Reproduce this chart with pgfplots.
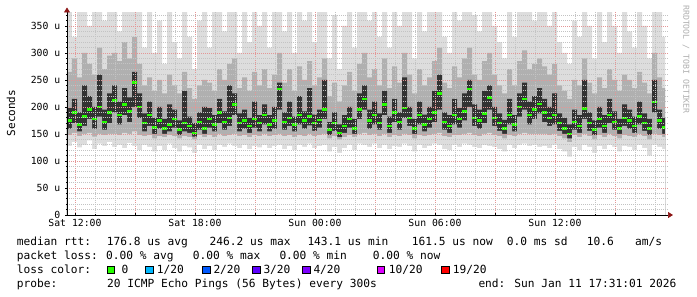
\documentclass[border=0pt]{standalone}
\usepackage{fontspec}
\setmainfont{DejaVu Sans Mono}
\usepackage{pgfplots}
\pgfplotsset{compat=1.18}
\usepackage{pgfplotstable}
\usetikzlibrary{arrows.meta}
\definecolor{lightc}{RGB}{221,221,221}
\definecolor{midc}{RGB}{176,176,176}
\definecolor{darkc}{RGB}{50,50,50}
\definecolor{lossgreen}{HTML}{26FF00}
\definecolor{loss1}{HTML}{00B8FF}
\definecolor{loss2}{HTML}{0059FF}
\definecolor{loss3}{HTML}{5E00FF}
\definecolor{loss4}{HTML}{7E00FF}
\definecolor{loss10}{HTML}{DD00FF}
\definecolor{loss19}{HTML}{FF0000}
\definecolor{majgrid}{RGB}{228,150,150}
\definecolor{mingrid}{RGB}{195,195,195}
\definecolor{arrowc}{RGB}{140,20,20}
\definecolor{wmark}{RGB}{175,175,175}
\pgfplotstableread{
x llo mlo dlo med dhi mhi lhi
-0.40 128 148 160 175 198 265 380
-0.15 135 152 170 190 215 290 330
0.10 125 146 155 168 190 255 380
0.35 130 150 165 182 240 300 380
0.60 138 152 178 195 220 280 350
0.85 122 145 160 178 200 260 380
1.10 132 150 182 200 260 310 380
1.35 128 148 158 172 195 270 360
1.60 135 150 170 190 225 295 380
1.85 126 150 190 212 240 300 380
2.10 130 148 168 185 210 285 340
2.35 124 152 185 205 235 320 380
2.60 133 150 172 192 218 290 380
2.85 128 155 200 245 265 330 380
3.10 120 148 180 200 225 280 380
3.35 130 146 155 170 188 240 310
3.60 126 148 165 185 210 255 380
3.85 118 142 150 162 180 230 300
4.10 128 146 160 175 200 250 360
4.35 120 144 150 160 178 225 280
4.60 132 148 155 168 205 260 380
4.85 124 146 162 178 195 240 320
5.10 118 142 148 158 175 225 290
5.35 128 146 155 170 230 265 380
5.60 125 144 152 165 182 235 330
5.85 115 140 145 152 170 215 270
6.10 130 148 158 172 190 240 360
6.35 122 144 150 160 200 250 380
6.60 128 148 162 178 198 245 310
6.85 120 144 155 168 185 230 380
7.10 130 150 170 190 215 270 380
7.35 126 146 158 172 192 250 340
7.60 132 148 165 180 240 280 380
7.85 128 150 185 205 225 290 380
8.10 124 146 155 170 188 235 300
8.35 130 148 160 175 195 255 380
8.60 122 144 152 165 180 230 320
8.85 128 148 162 178 210 265 380
9.10 125 146 155 170 185 240 350
9.35 130 150 168 185 205 270 380
9.60 124 146 155 168 185 235 310
9.85 128 148 160 175 200 260 380
10.10 130 150 195 233 245 300 380
10.35 122 146 158 172 190 245 340
10.60 128 148 165 180 210 270 380
10.85 120 144 155 168 182 230 300
11.10 130 148 168 185 220 275 380
11.35 126 146 160 175 192 250 360
11.60 132 150 166 182 235 285 380
11.85 124 146 156 170 186 240 320
12.10 128 148 162 176 195 255 380
12.35 130 150 178 195 250 290 380
12.60 118 142 148 158 172 220 290
12.85 126 146 156 170 190 245 370
13.10 115 140 144 152 168 210 270
13.35 124 144 152 165 185 240 350
13.60 130 148 162 178 200 265 380
13.85 120 144 150 160 178 230 310
14.10 132 150 178 195 225 280 380
14.35 130 152 195 215 240 300 380
14.60 126 148 160 175 195 255 360
14.85 132 150 168 185 210 270 380
15.10 124 146 158 170 188 240 330
15.35 130 150 185 205 230 290 380
15.60 122 144 152 165 182 235 310
15.85 128 148 172 190 215 275 380
16.10 126 146 158 172 190 245 350
16.35 132 150 180 198 255 300 380
16.60 128 148 165 180 200 260 380
16.85 118 142 150 160 178 225 290
17.10 130 148 168 185 210 270 380
17.35 124 146 155 168 186 240 340
17.60 128 148 162 178 200 255 380
17.85 132 150 172 190 230 285 380
18.10 130 152 195 225 260 310 380
18.35 122 146 158 172 190 245 330
18.60 120 144 152 165 185 235 300
18.85 130 148 168 185 215 275 380
19.10 126 148 162 178 198 255 360
19.35 132 150 175 192 225 290 380
19.60 130 152 200 233 250 310 380
19.85 126 148 165 180 205 260 370
20.10 124 146 160 175 195 250 340
20.35 130 150 170 188 230 285 380
20.60 128 152 195 218 240 300 380
20.85 126 148 165 180 200 260 350
21.10 122 146 156 170 188 240 320
21.35 118 142 150 160 176 225 290
21.60 130 148 168 185 215 270 380
21.85 124 146 155 168 185 240 330
22.10 130 150 182 200 225 285 380
22.35 132 152 195 215 245 305 380
22.60 128 150 168 185 210 270 380
22.85 130 150 178 195 220 280 360
23.10 126 150 188 206 235 290 380
23.35 128 150 172 190 215 275 380
23.60 124 148 165 180 200 260 350
23.85 130 150 168 185 225 280 380
24.10 122 146 156 170 188 240 320
24.35 118 142 150 160 180 230 300
24.60 108 135 142 150 168 215 280
24.85 126 148 158 172 195 250 360
25.10 120 144 152 165 185 240 330
25.35 130 150 178 197 250 290 380
25.60 126 146 156 170 190 245 350
25.85 115 140 148 158 175 225 290
26.10 128 148 162 178 200 255 380
26.35 122 144 152 165 185 235 320
26.60 130 150 170 185 215 270 380
26.85 126 146 158 172 192 250 350
27.10 118 142 150 160 178 230 300
27.35 128 148 165 180 205 260 380
27.60 126 146 160 175 195 250 340
27.85 120 144 152 165 182 235 310
28.10 130 150 168 182 210 265 380
28.35 124 146 156 170 188 245 350
28.60 110 140 148 160 178 225 290
28.85 130 150 190 209 250 300 380
29.10 126 148 160 175 195 255 380
29.35 122 144 150 162 180 235 330
29.50 122 144 150 162 180 235 330
}\smoke
\newcommand\lt[3]{\node[anchor=base west, inner sep=0pt] at (#1pt,#2pt) {#3};}
\newcommand\lbox[3]{\draw[fill=#3, draw=black, line width=0.7pt] (#1pt,#2pt) rectangle ++(7.5pt,7.5pt);}
\begin{document}
\begin{tikzpicture}
\fill[white] (0,0) rectangle (697pt,297pt);
\path[use as bounding box] (0,0) rectangle (697pt,297pt);
\begin{axis}[
  at={(67pt,82pt)}, anchor=south west,
  scale only axis, width=601pt, height=202.5pt,
  xmin=-0.4, xmax=29.65, ymin=0, ymax=375,
  axis on top,
  axis lines=left,
  axis line style={black, line width=0.7pt},
  x axis line style={-{Triangle[length=5pt,width=6pt,color=arrowc]}, shorten >=-5pt},
  y axis line style={-{Triangle[length=5pt,width=6pt,color=arrowc]}, shorten >=-5pt},
  grid=both,
  major grid style={draw=majgrid, dash pattern=on 1pt off 1pt, line width=0.7pt},
  minor grid style={draw=mingrid, dash pattern=on 1pt off 1pt, line width=0.7pt},
  xtick={0,3,6,9,12,15,18,21,24,27},
  xticklabels={Sat 12:00,,Sat 18:00,,Sun 00:00,,Sun 06:00,,Sun 12:00,},
  minor xtick={1,2,4,5,7,8,10,11,13,14,16,17,19,20,22,23,25,26,28,29},
  ytick={0,50,100,150,200,250,300,350},
  yticklabels={0,50 u,100 u,150 u,200 u,250 u,300 u,350 u},
  minor ytick={10,20,30,40,60,70,80,90,110,120,130,140,160,170,180,190,210,220,230,240,260,270,280,290,310,320,330,340,360,370},
  tick style={black, line width=0.6pt},
  major tick length=3pt, minor tick length=2pt, tick align=center,
  ticklabel style={font=\fontsize{9.8}{11}\selectfont, text=black},
  xticklabel style={anchor=north, inner sep=0pt, yshift=-3pt},
  yticklabel style={anchor=east, inner sep=0pt, xshift=-5pt},
]
\addplot[const plot, fill=lightc, draw=none, mark=none] table[x=x,y=lhi]{\smoke} \closedcycle;
\addplot[const plot, fill=midc, draw=none, mark=none] table[x=x,y=mhi]{\smoke} \closedcycle;
\addplot[const plot, fill=darkc, draw=none, mark=none] table[x=x,y=dhi]{\smoke} \closedcycle;
\addplot[const plot, fill=midc, draw=none, mark=none] table[x=x,y=dlo]{\smoke} \closedcycle;
\addplot[const plot, fill=lightc, draw=none, mark=none] table[x=x,y=mlo]{\smoke} \closedcycle;
\addplot[const plot, fill=white, draw=none, mark=none] table[x=x,y=llo]{\smoke} \closedcycle;
\addplot[jump mark left, draw=lossgreen, line width=2.5pt, mark=none] table[x=x,y=med]{\smoke};
\end{axis}
\node[rotate=90, font=\fontsize{11}{12}\selectfont] at (11pt,184pt) {Seconds};
\node[rotate=-90, anchor=west, inner sep=0pt, font=\fontsize{8.2}{9}\selectfont, text=wmark] at (686pt,292pt) {RRDTOOL / TOBI OETIKER};
\begin{scope}[font=\fontsize{11.2}{13}\selectfont]
\lt{16.7}{51.5}{median rtt:}
\lt{106.7}{51.5}{176.8 us avg}
\lt{209.5}{51.5}{246.2 us max}
\lt{307.3}{51.5}{143.1 us min}
\lt{411.7}{51.5}{161.5 us now}
\lt{506.7}{51.5}{0.0 ms sd}
\lt{586.7}{51.5}{10.6}
\lt{635}{51.5}{am/s}
\lt{16.7}{37.5}{packet loss:}
\lt{106}{37.5}{0.00 \% avg}
\lt{192.7}{37.5}{0.00 \% max}
\lt{279.3}{37.5}{0.00 \% min}
\lt{372.7}{37.5}{0.00 \% now}
\lt{16.7}{23.5}{loss color:}
\lbox{107.3}{23.3}{lossgreen}\lt{121.3}{23.5}{0}
\lbox{145.5}{23.3}{loss1}\lt{156.7}{23.5}{1/20}
\lbox{202.5}{23.3}{loss2}\lt{213.3}{23.5}{2/20}
\lbox{252.5}{23.3}{loss3}\lt{263.3}{23.5}{3/20}
\lbox{302.5}{23.3}{loss4}\lt{313.3}{23.5}{4/20}
\lbox{377.3}{23.3}{loss10}\lt{388.7}{23.5}{10/20}
\lbox{441.7}{23.3}{loss19}\lt{452.7}{23.5}{19/20}
\lt{16.7}{9.5}{probe:}
\lt{107}{9.5}{20 ICMP Echo Pings (56 Bytes) every 300s}
\lt{478.3}{9.5}{end: Sun Jan 11 17:31:01 2026}
\end{scope}
\end{tikzpicture}
\end{document}
